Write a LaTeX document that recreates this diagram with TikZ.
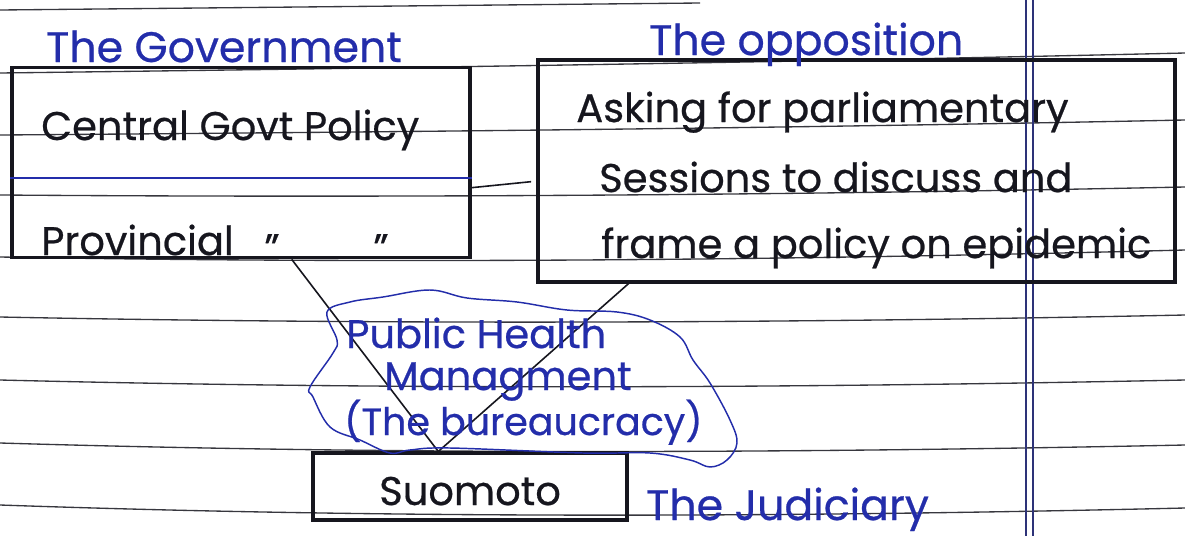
\documentclass[tikz,border=0pt]{standalone}
\usepackage{fontspec}
\setmainfont{Poppins}[FakeBold=0.6]
\usepackage{tikz}
\usetikzlibrary{calc}

\definecolor{inkblue}{RGB}{35,45,170}
\definecolor{inkblack}{RGB}{22,22,30}
\definecolor{ruling}{RGB}{55,55,62}
\definecolor{margin}{RGB}{45,50,120}

\tikzset{
  pen/.style={draw=inkblack,line width=2.3pt},
  stroke/.style={draw=inkblack,line width=1.2pt},
  rule/.style={draw=ruling,line width=1pt},
  bluehand/.style={text=inkblue,font=\fontsize{32}{36}\selectfont},
  cloudhand/.style={text=inkblue,font=\fontsize{30}{34}\selectfont},
  blackhand/.style={text=inkblack,font=\fontsize{30}{34}\selectfont}
}

\begin{document}
\begin{tikzpicture}[x=0.75pt,y=0.75pt,yscale=-1,xscale=1]
\useasboundingbox (0,0) rectangle (1185,536);

%Ruled paper lines
\draw [rule] (0,10) -- (700,3) ;
\draw [rule] (0,73) .. controls (400,68) and (800,62) .. (1185,53) ;
\draw [rule] (0,135) .. controls (400,132) and (800,128) .. (1185,120) ;
\draw [rule] (0,195) .. controls (400,198) and (800,195) .. (1185,187) ;
\draw [rule] (0,257) .. controls (400,264) and (800,260) .. (1185,250) ;
\draw [rule] (0,317) .. controls (400,325) and (800,323) .. (1185,315) ;
\draw [rule] (0,380) .. controls (400,390) and (800,388) .. (1185,380) ;
\draw [rule] (0,443) .. controls (400,455) and (800,453) .. (1185,445) ;
\draw [rule] (0,505) .. controls (400,519) and (800,517) .. (1185,508) ;
%Margin lines
\draw [margin, line width=1pt] (1026,0) -- (1026,536) ;
\draw [margin, line width=1pt] (1033,0) -- (1033,536) ;

%Shape: Rectangle
\draw (241,162.5) node [pen, minimum width=343.5pt, minimum height=143pt, inner sep=0pt] (govbox) {};
%Shape: Rectangle
\draw (856.5,171) node [pen, minimum width=477.75pt, minimum height=166.5pt, inner sep=0pt] (oppbox) {};
%Shape: Rectangle
\draw (470,486.5) node [pen, minimum width=235.5pt, minimum height=50.25pt, inner sep=0pt] (suomoto) {};

%Straight Lines
\draw [inkblue, line width=2pt] ($(govbox.north west)!0.58!(govbox.south west)$) -- ($(govbox.north east)!0.58!(govbox.south east)$) ;
%Straight Lines
\draw [stroke, shorten >=4pt] ($(govbox.north east)!0.63!(govbox.south east)$) -- ($(oppbox.north west)!0.545!(oppbox.south west)$) ;
%Straight Lines
\draw [stroke] ($(govbox.south west)!0.61!(govbox.south east)$) -- ($(suomoto.north west)!0.4!(suomoto.north east)$) ;
%Straight Lines
\draw [stroke] ($(oppbox.south west)!0.144!(oppbox.south east)$) -- ($(suomoto.north west)!0.4!(suomoto.north east)$) ;

%Shape: Cloud
\draw [inkblue, line width=1.1pt] plot [smooth cycle, tension=0.6] coordinates {(327,312) (350,302) (383,297) (430,290) (467,298) (517,302) (567,310) (617,312) (650,320) (680,337) (693,360) (710,383) (730,420) (737,443) (727,460) (710,467) (690,460) (650,453) (583,453) (450,448) (410,450) (390,453) (360,440) (330,427) (313,397) (310,387) (333,353) (337,340)} ;

% Text Node
\draw (45,62) node [anchor=base west][inner sep=0.75pt] [bluehand] (govtitle) {The Government};
% Text Node
\draw (648,55) node [anchor=base west][inner sep=0.75pt] [bluehand] (opptitle) {The opposition};
% Text Node
\draw (40,140) node [anchor=base west][inner sep=0.75pt] [blackhand] (central) {Central Govt Policy};
% Text Node
\draw (40,255) node [anchor=base west][inner sep=0.75pt] [blackhand] (provincial) {Provincial};
% Text Node
\draw (272,262) node [anchor=base][inner sep=0.75pt] [blackhand] (dittoa) {"};
% Text Node
\draw (381,262) node [anchor=base][inner sep=0.75pt] [blackhand] (dittob) {"};
% Text Node
\draw (575,122) node [anchor=base west][inner sep=0.75pt] [blackhand] (asking) {Asking for parliamentary};
% Text Node
\draw (598,192) node [anchor=base west][inner sep=0.75pt] [blackhand] (sessions) {Sessions to discuss and};
% Text Node
\draw (600,258) node [anchor=base west][inner sep=0.75pt] [blackhand] (frame) {frame a policy on epidemic};
% Text Node
\draw (345,348) node [anchor=base west][inner sep=0.75pt] [cloudhand] (phealth) {Public Health};
% Text Node
\draw (383,390) node [anchor=base west][inner sep=0.75pt] [cloudhand] (mgmt) {Managment};
% Text Node
\draw (343,435) node [anchor=base west][inner sep=0.75pt] [cloudhand, font=\fontsize{28.5}{32}\selectfont] (bureau) {(The bureaucracy)};
% Text Node
\draw (378,505) node [anchor=base west][inner sep=0.75pt] [blackhand] (suotext) {Suomoto};
% Text Node
\draw (645,520) node [anchor=base west][inner sep=0.75pt] [bluehand] (judiciary) {The Judiciary};

\end{tikzpicture}
\end{document}
